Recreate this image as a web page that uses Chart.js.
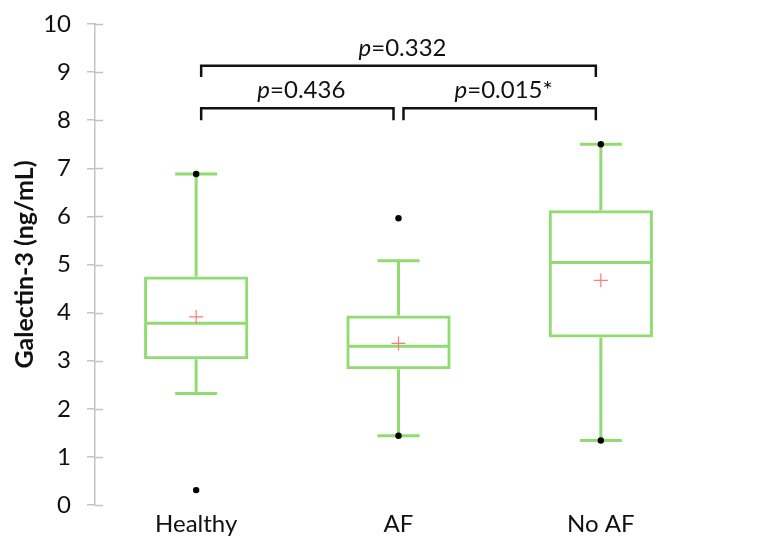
<!DOCTYPE html>
<html>
<head>
<meta charset="utf-8">
<script src="https://cdn.jsdelivr.net/npm/chart.js@4/dist/chart.umd.min.js"></script>
<style>
  html, body { margin: 0; padding: 0; background: #ffffff; }
  #wrap { width: 757px; height: 536px; position: relative; }
</style>
</head>
<body>
<div id="wrap"><canvas id="c" width="757" height="536"></canvas></div>
<script>
// ---- data ----
const categories   = ['Healthy', 'AF', 'No AF'];
const q1Values     = [3.03, 2.82, 3.48];
const q3Values     = [4.75, 3.94, 6.13];
const medianValues = [3.78, 3.30, 5.04];
const whiskerLow   = [2.32, 1.44, 1.34];
const whiskerHigh  = [6.88, 5.08, 7.50];
const meanValues   = [3.91, 3.36, 4.67];
const minPoints    = [0.31, 1.44, 1.34];
const maxPoints    = [6.88, 5.96, 7.50];
const yTickValues  = [0, 1, 2, 3, 4, 5, 6, 7, 8, 9, 10];
// significance brackets
const bracketFrom  = [0, 0, 1];
const bracketTo    = [2, 1, 2];
const bracketTop   = [9.13, 8.25, 8.25];
const bracketFoot  = [8.90, 8.00, 8.00];
const bracketP     = ['=0.332', '=0.436', '=0.015*'];

const GREEN = '#90dc70';
const AXIS = '#c4c4c4';
const FONT = 'Lato, "Open Sans", sans-serif';

const boxPlugin = {
  id: 'boxExtras',
  beforeDatasetsDraw(chart) {
    const ctx = chart.ctx;
    const x = chart.scales.x, y = chart.scales.y;
    const barMeta = chart.getDatasetMeta(0);
    ctx.save();
    // inner tick marks on the y axis
    ctx.strokeStyle = AXIS;
    ctx.lineWidth = 1.5;
    yTickValues.forEach(v => {
      const py = Math.round(y.getPixelForValue(v)) + 0.5;
      ctx.beginPath();
      ctx.moveTo(x.left, py);
      ctx.lineTo(x.left + 8, py);
      ctx.stroke();
    });
    // whiskers, caps, medians
    ctx.strokeStyle = GREEN;
    ctx.lineWidth = 3;
    ctx.lineCap = 'butt';
    categories.forEach((c, i) => {
      const cx = x.getPixelForValue(i);
      const bar = barMeta.data[i];
      const half = bar.width / 2 - 1.5;
      const capHalf = 21;
      const yq1 = y.getPixelForValue(q1Values[i]);
      const yq3 = y.getPixelForValue(q3Values[i]);
      const ylo = y.getPixelForValue(whiskerLow[i]);
      const yhi = y.getPixelForValue(whiskerHigh[i]);
      const ymed = y.getPixelForValue(medianValues[i]);
      ctx.beginPath();
      ctx.moveTo(cx, yq3); ctx.lineTo(cx, yhi);
      ctx.moveTo(cx, yq1); ctx.lineTo(cx, ylo);
      ctx.moveTo(cx - capHalf, yhi); ctx.lineTo(cx + capHalf, yhi);
      ctx.moveTo(cx - capHalf, ylo); ctx.lineTo(cx + capHalf, ylo);
      ctx.moveTo(cx - half, ymed); ctx.lineTo(cx + half, ymed);
      ctx.stroke();
    });
    ctx.restore();
  },
  afterDatasetsDraw(chart) {
    const ctx = chart.ctx;
    const x = chart.scales.x, y = chart.scales.y;
    ctx.save();
    // significance brackets
    ctx.strokeStyle = '#111111';
    ctx.lineWidth = 2.5;
    ctx.fillStyle = '#111111';
    bracketFrom.forEach((f, i) => {
      const x1 = x.getPixelForValue(f) + 5;
      const x2 = x.getPixelForValue(bracketTo[i]) - 5;
      const yt = y.getPixelForValue(bracketTop[i]);
      const yf = y.getPixelForValue(bracketFoot[i]);
      ctx.beginPath();
      ctx.moveTo(x1, yf); ctx.lineTo(x1, yt); ctx.lineTo(x2, yt); ctx.lineTo(x2, yf);
      ctx.stroke();
      const italic = 'italic 24px ' + FONT;
      const normal = '24px ' + FONT;
      ctx.font = italic; const w1 = ctx.measureText('p').width;
      ctx.font = normal; const w2 = ctx.measureText(bracketP[i]).width;
      let sx = (x1 + x2) / 2 - (w1 + w2) / 2 + 4;
      const ty = yt - 10;
      ctx.textBaseline = 'alphabetic';
      ctx.textAlign = 'left';
      ctx.font = italic; ctx.fillText('p', sx, ty);
      ctx.font = normal; ctx.fillText(bracketP[i], sx + w1, ty);
    });
    ctx.restore();
  }
};

new Chart(document.getElementById('c'), {
  data: {
    labels: categories,
    datasets: [
      {
        type: 'bar',
        data: categories.map((c, i) => [q1Values[i], q3Values[i]]),
        backgroundColor: 'rgba(0,0,0,0)',
        borderColor: GREEN,
        borderWidth: 3,
        borderSkipped: false,
        barPercentage: 0.515,
        categoryPercentage: 1.0,
        order: 3
      },
      {
        type: 'line',
        data: meanValues,
        showLine: false,
        pointStyle: 'cross',
        pointRadius: 7,
        pointBorderWidth: 1.2,
        pointBorderColor: '#ff7a7a',
        pointBackgroundColor: '#ff7a7a',
        order: 1
      },
      {
        type: 'line',
        data: maxPoints,
        showLine: false,
        pointStyle: 'circle',
        pointRadius: 3.2,
        pointBorderWidth: 0,
        pointBackgroundColor: '#000000',
        order: 0
      },
      {
        type: 'line',
        data: minPoints,
        showLine: false,
        pointStyle: 'circle',
        pointRadius: 3.2,
        pointBorderWidth: 0,
        pointBackgroundColor: '#000000',
        order: 0
      }
    ]
  },
  options: {
    responsive: false,
    animation: false,
    events: [],
    layout: { padding: { left: 0, right: 55, top: 24, bottom: 0 } },
    plugins: { legend: { display: false }, tooltip: { enabled: false } },
    scales: {
      x: {
        type: 'category',
        offset: true,
        grid: { display: false, drawTicks: false, tickLength: 0 },
        border: { display: false },
        ticks: { color: '#111111', font: { family: FONT, size: 24 }, padding: 5 },
        afterFit(scale) { scale.height = 31; scale.paddingLeft = 0; scale.paddingRight = 0; }
      },
      y: {
        type: 'linear',
        min: 0, max: 10,
        afterBuildTicks(scale) { scale.ticks = yTickValues.map(v => ({ value: v })); },
        grid: { drawOnChartArea: false, drawTicks: true, tickLength: 8, color: AXIS, lineWidth: 1.5 },
        border: { display: true, color: AXIS, width: 1.5 },
        ticks: { color: '#111111', font: { family: FONT, size: 24 }, padding: 16 },
        title: { display: true, text: 'Galectin-3 (ng/mL)', color: '#111111', font: { family: FONT, size: 25, weight: 'bold' }, padding: { top: 10, bottom: 0 } },
        afterFit(scale) { scale.width = 95; scale.paddingTop = 0; scale.paddingBottom = 0; }
      }
    }
  },
  plugins: [boxPlugin]
});
</script>
</body>
</html>
